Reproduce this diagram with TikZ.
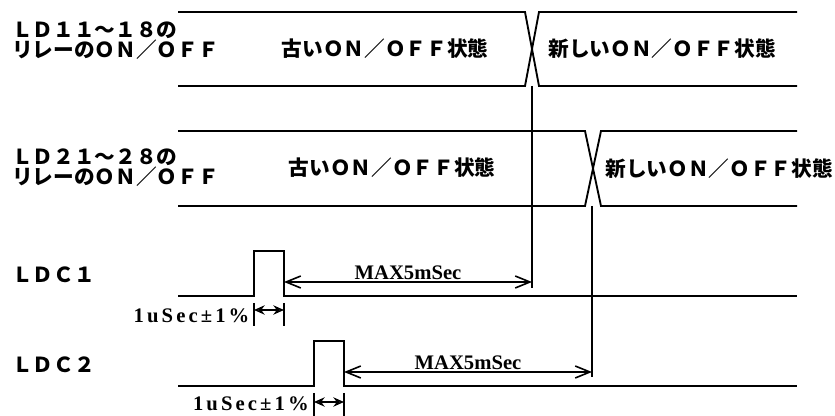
\documentclass[tikz,border=0pt]{standalone}
\usepackage{fontspec}
\setmainfont{Liberation Serif}
\newfontfamily\jpfont{Noto Sans CJK JP}
\usepackage{tikz}
\usetikzlibrary{calc}
\usetikzlibrary{arrows.meta}
\usetikzlibrary{positioning}

\tikzset{
  wave/.style={line width=1.4pt},
  jplabel/.style={font=\jpfont\bfseries\fontsize{15.5}{13}\selectfont, inner sep=0pt},
  statelabel/.style={font=\jpfont\bfseries\fontsize{15.5}{15}\selectfont, inner sep=0pt},
  timelabel/.style={font=\bfseries\fontsize{15.5}{15}\selectfont, inner sep=1pt},
  maxarrow/.style={line width=1.2pt, {Straight Barb[length=11pt,width=9pt]}-{Straight Barb[length=11pt,width=9pt]}},
  widtharrow/.style={line width=1.2pt, {Stealth[open,length=8pt,width=7pt]}-{Stealth[open,length=8pt,width=7pt]}},
}

\begin{document}
\begin{tikzpicture}[x=0.75pt,y=-0.75pt]
\useasboundingbox (0,0) rectangle (835,416);

% signal names
\node[jplabel, anchor=west, align=left] (bus1) at (12,41) {ＬＤ１１～１８の\\リレーのＯＮ／ＯＦＦ};
\node[jplabel, anchor=west, align=left] (bus2) at (12,168) {ＬＤ２１～２８の\\リレーのＯＮ／ＯＦＦ};
\node[jplabel, anchor=west] (ldc1) at (12,275) {ＬＤＣ１};
\node[jplabel, anchor=west] (ldc2) at (12,365) {ＬＤＣ２};

% LD11-18 bus
\draw[wave] (178,12) -- (525,12) -- (539,86) -- (797,86);
\draw[wave] (178,86) -- (525,86) -- (539,12) -- (797,12);
\node[statelabel] (old1) at (385,49) {古いＯＮ／ＯＦＦ状態};
\node[statelabel] (new1) at (662,49) {新しいＯＮ／ＯＦＦ状態};

% LD21-28 bus
\draw[wave] (178,131) -- (585,131) -- (601,206) -- (797,206);
\draw[wave] (178,206) -- (585,206) -- (601,131) -- (797,131);
\node[statelabel] (old2) at (392,168) {古いＯＮ／ＯＦＦ状態};
\node[statelabel] (new2) at (719,169) {新しいＯＮ／ＯＦＦ状態};

% LDC1 / LDC2 pulses
\draw[wave] (178,296) -- (254,296) -- (254,251) -- (284,251) -- (284,296) -- (797,296);
\draw[wave] (178,386) -- (314,386) -- (314,341) -- (344,341) -- (344,386) -- (797,386);

% change points
\coordinate (x1) at (532,86);
\coordinate (x1e) at (532,288);
\coordinate (x2) at (592,206);
\coordinate (x2e) at (592,377);
\draw[wave] (x1) -- (x1e);
\draw[wave] (x2) -- (x2e);

\coordinate (m1a) at (284,282);
\coordinate (m1b) at (532,282);
\coordinate (m2a) at (344,372);
\coordinate (m2b) at (592,372);
\draw[maxarrow] (m1a) -- (m1b) node[midway,above,timelabel] (max1) {MAX5mSec};
\draw[maxarrow] (m2a) -- (m2b) node[midway,above,timelabel] (max2) {MAX5mSec};

% pulse width
\coordinate (t1a) at (254,303);
\coordinate (t1b) at (284,303);
\draw[wave] (t1a) -- ++(0,23);
\draw[wave] (t1b) -- ++(0,23);
\draw[widtharrow] ($(t1a)+(0,7)$) -- ($(t1b)+(0,7)$);
\node[timelabel, anchor=east] (w1) at (251,316) {\addfontfeature{LetterSpace=15}1uSec±1\%};

\coordinate (t2a) at (314,393);
\coordinate (t2b) at (344,393);
\draw[wave] (t2a) -- ++(0,23);
\draw[wave] (t2b) -- ++(0,23);
\draw[widtharrow] ($(t2a)+(0,9)$) -- ($(t2b)+(0,9)$);
\node[timelabel, anchor=east, inner sep=0pt] (w2) at (309,404) {\addfontfeature{LetterSpace=15}1uSec±1\%};
\end{tikzpicture}
\end{document}
